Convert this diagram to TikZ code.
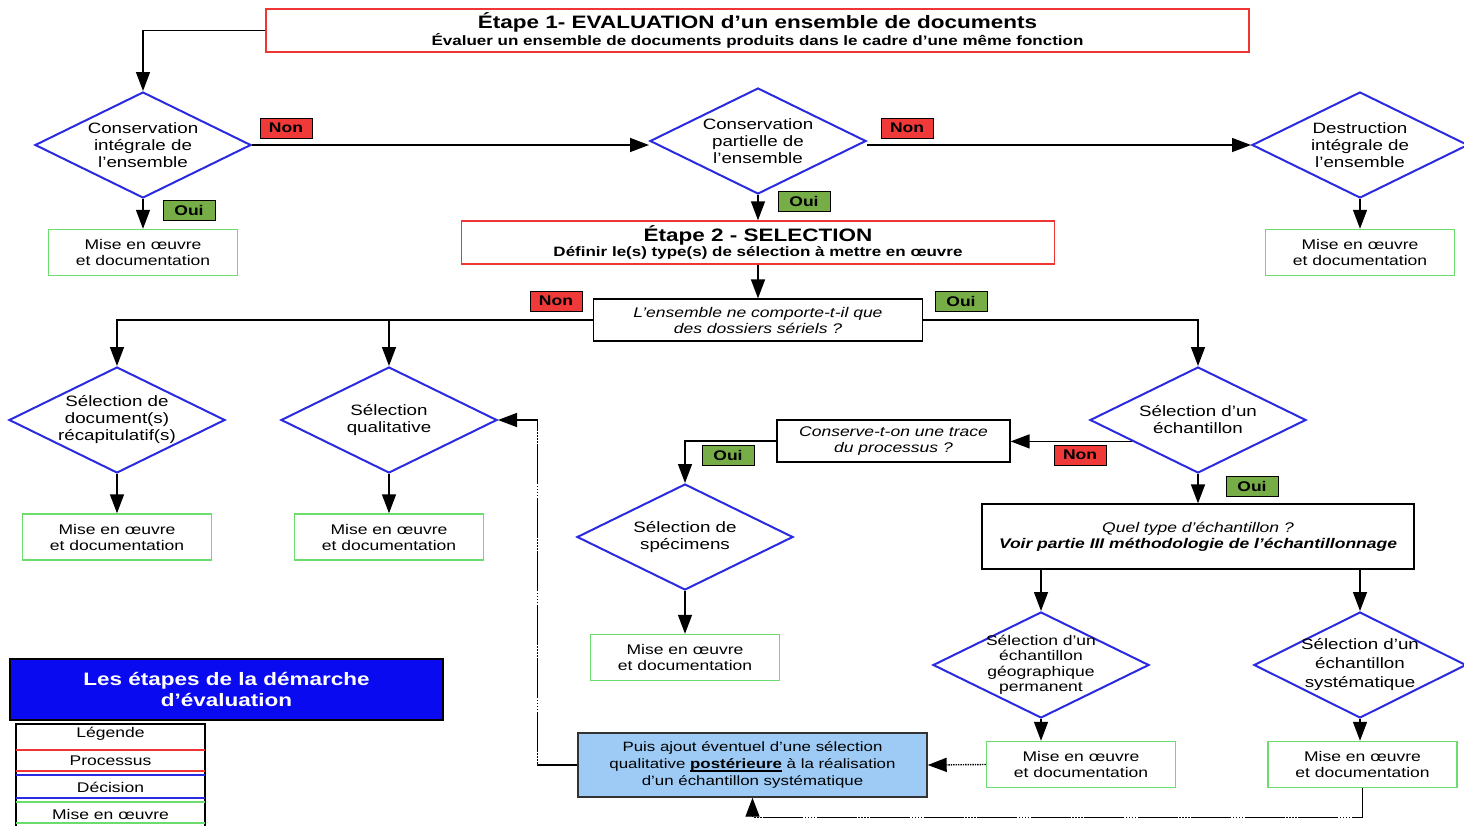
\documentclass[tikz,border=0pt]{standalone}
\usepackage{fontspec}
\setmainfont[FakeStretch=1.25]{Liberation Sans}
\usetikzlibrary{arrows.meta,shapes.geometric}
\definecolor{procred}{HTML}{F03535}
\definecolor{decblue}{HTML}{2A2AE0}
\definecolor{actgreen}{HTML}{6CDC6C}
\definecolor{ouigreen}{HTML}{77AD47}
\definecolor{nonred}{HTML}{F03A3A}
\definecolor{postblue}{HTML}{9DCBF5}
\definecolor{titleblue}{HTML}{0A0AF0}
\newcommand{\mise}{Mise en œuvre\\et documentation}
\newcommand{\thickul}[1]{\setbox0\hbox{#1}\rlap{\rule[-3pt]{\wd0}{1.3pt}}\box0\relax}

\begin{document}
\begin{tikzpicture}[x=1pt,y=-1pt,>={Triangle[length=19pt,width=14pt]},
  decision/.style={diamond,draw=decblue,line width=2pt,minimum width=216pt,minimum height=106pt,
    inner sep=-30pt,align=center,font=\fontsize{15}{17}\selectfont},
  process/.style={draw=procred,line width=1.4pt,minimum width=#1,minimum height=43pt,align=center,inner sep=0pt},
  action/.style={draw=actgreen,line width=1.4pt,minimum width=189pt,minimum height=46pt,align=center,
    inner sep=0pt,font=\fontsize{14}{16}\selectfont},
  question/.style={draw=black,line width=1.2pt,minimum width=#1,minimum height=42pt,align=center,
    inner sep=0pt,font=\fontsize{14}{16}\selectfont\itshape},
  non/.style={fill=nonred,draw=black,line width=1pt,minimum width=52pt,minimum height=20pt,inner sep=0pt,
    font=\fontsize{14}{16}\selectfont\bfseries},
  oui/.style={non,fill=ouigreen},
  link/.style={->,line width=1.4pt},
  back/.style={link,dash pattern=on 40pt off 1.5pt on 1.5pt off 1.5pt on 1.5pt off 1.5pt on 1.5pt off 1.5pt on 1.5pt off 1.5pt}]
\useasboundingbox (0,0) rectangle (1464,825);

% etape 1
\node[process=983pt] (step1) at (757.5,30.5) {{\fontsize{18}{20}\selectfont\bfseries Étape 1- EVALUATION d'un ensemble de documents}\\
  {\fontsize{13.6}{15}\selectfont\bfseries Évaluer un ensemble de documents produits dans le cadre d'une même fonction}};
\node[decision] (d1) at (143,145) {Conservation\\intégrale de\\l'ensemble};
\node[decision] (d2) at (758,141) {Conservation\\partielle de\\l'ensemble};
\node[decision] (d3) at (1360,145) {Destruction\\intégrale de\\l'ensemble};
\node[action] (m1) at (143,252.5) {\mise};
\node[action] (m3) at (1360,252.5) {\mise};

% etape 2
\node[process=593pt] (step2) at (758,242.5) {{\fontsize{18}{20}\selectfont\bfseries Étape 2 - SELECTION}\\
  {\fontsize{13.6}{15}\selectfont\bfseries Définir le(s) type(s) de sélection à mettre en œuvre}};
\node[question=329pt] (q1) at (758,320) {L'ensemble ne comporte-t-il que\\des dossiers sériels ?};
\node[decision] (d4) at (117,420) {Sélection de\\document(s)\\récapitulatif(s)};
\node[decision] (d5) at (389,420) {Sélection\\qualitative};
\node[decision] (d6) at (1198,420) {Sélection d'un\\échantillon};
\node[action] (m4) at (117,537) {\mise};
\node[action] (m5) at (389,537) {\mise};
\node[question=233pt] (q2) at (893.5,441) {Conserve-t-on une trace\\du processus ?};
\node[decision] (d7) at (685,537) {Sélection de\\spécimens};
\node[action] (m7) at (685,657.5) {\mise};
\node[question=432pt,minimum height=65pt] (q3) at (1198,536.5) {Quel type d'échantillon ?\\
  \bfseries Voir partie III méthodologie de l'échantillonnage};
\node[decision,font=\fontsize{14}{15.5}\selectfont] (d8) at (1041,665) {Sélection d'un\\échantillon\\géographique\\permanent};
\node[decision,minimum width=212pt,font=\fontsize{15}{19}\selectfont] (d9) at (1360,665) {Sélection d'un\\échantillon\\systématique};
\node[action] (m8) at (1081,764.5) {\mise};
\node[action] (m9) at (1362.5,764.5) {\mise};
\node[draw=black!80,fill=postblue,line width=1.4pt,minimum width=349pt,minimum height=64pt,align=center,
  inner sep=0pt,font=\fontsize{13.5}{17}\selectfont] (fb) at (752.5,765)
  {Puis ajout éventuel d'une sélection\\qualitative \thickul{\textbf{postérieure}} à la réalisation\\d'un échantillon systématique};

% oui / non
\node[non] (non1) at (286,128) {Non};
\node[non] (non2) at (907,128) {Non};
\node[oui] (oui1) at (189,210) {Oui};
\node[oui] (oui2) at (804,201) {Oui};
\node[non] (non3) at (556,301) {Non};
\node[oui] (oui3) at (961,301) {Oui};
\node[oui] (oui4) at (728,455) {Oui};
\node[non] (non4) at (1080,455) {Non};
\node[oui] (oui5) at (1252,486) {Oui};

% liens
\draw[link] (step1.west) -| (d1.north);
\draw[link] (d1.east) -- (d1.east -| d2.west);
\draw[link] (d2.east |- d3.west) -- (d3.west);
\draw[link] (d1.south) -- (m1.north);
\draw[link] (d2.south) -- (step2.north);
\draw[link] (d3.south) -- (m3.north);
\draw[link] (step2.south) -- (q1.north);
\draw[link] (q1.west) -| (d4.north);
\draw[link] (d5.north |- q1.west) -- (d5.north);
\draw[link] (q1.east) -| (d6.north);
\draw[link] (d4.south) -- (m4.north);
\draw[link] (d5.south) -- (m5.north);
\draw[link] (d6.198) -- (d6.198 -| q2.east);
\draw[link] (q2.west) -| (d7.north);
\draw[link] (d7.south) -- (m7.north);
\draw[link] (d6.south) -- (q3.north);
\draw[link] (q3.south -| d8.north) -- (d8.north);
\draw[link] (q3.south -| d9.north) -- (d9.north);
\draw[link] (d8.south) -- (d8.south |- m8.north);
\draw[link] (d9.south) -- (d9.south |- m9.north);
\draw[link,densely dotted] (m8.west) -- (fb.east);
\draw[back] (m9.south) -- ++(0,29) -| (fb.south);
\draw[back] (fb.west) -- ++(-40,0) |- (d5.east);

% legende
\node[draw=black,fill=titleblue,line width=1.4pt,minimum width=433pt,minimum height=61pt,align=center,inner sep=0pt,
  text=white,font=\fontsize{18}{21}\selectfont\bfseries] (lgtitle) at (226.5,689.5) {Les étapes de la démarche\\d'évaluation};
\draw[line width=1.4pt] (16,724) rectangle (205,830);
\node[font=\fontsize{14}{16}\selectfont] (lg1) at (110.5,734) {Légende};
\node[font=\fontsize{14}{16}\selectfont] (lg2) at (110.5,761) {Processus};
\node[font=\fontsize{14}{16}\selectfont] (lg3) at (110.5,787) {Décision};
\node[font=\fontsize{14}{16}\selectfont] (lg4) at (110.5,814) {Mise en œuvre};
\draw[procred,line width=1.2pt] (16,750) -- (205,750) (16,771) -- (205,771);
\draw[decblue,line width=1.2pt] (16,775) -- (205,775) (16,798) -- (205,798);
\draw[actgreen,line width=1.2pt] (16,802) -- (205,802) (16,823) -- (205,823);
\end{tikzpicture}
\end{document}
